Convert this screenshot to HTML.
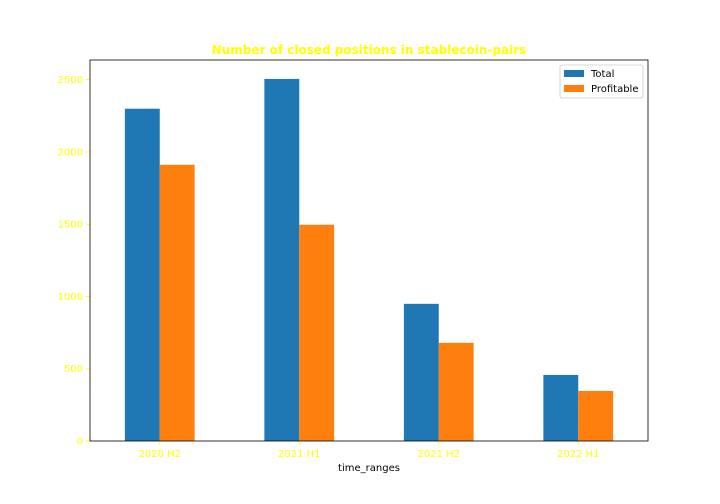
<!DOCTYPE html>
<html><head><meta charset="utf-8"><style>
body{margin:0;background:#fff;}
svg{display:block;font-family:"DejaVu Sans","Liberation Sans",sans-serif;}
</style></head><body>
<svg id="chart" width="720" height="504">
<text x="369" y="54" text-anchor="middle" font-size="12" font-weight="bold" fill="#ffff00">Number of closed positions in stablecoin-pairs</text>
<g id="plot"></g>
<text x="369" y="471" text-anchor="middle" font-size="10" fill="#000">time_ranges</text>
<rect x="90" y="60" width="558" height="381" fill="none" stroke="#000" stroke-width="0.8"/>
<g>
<rect x="560" y="65" width="83" height="33" rx="2" fill="#fff" stroke="#ccc" stroke-width="0.8"/>
<rect x="564" y="70" width="20" height="7" fill="#1f77b4"/>
<text x="591" y="77" font-size="10" fill="#000">Total</text>
<rect x="564" y="85" width="20" height="7" fill="#ff7f0e"/>
<text x="591" y="92" font-size="10" fill="#000">Profitable</text>
</g>
</svg>
<script>
const categories = ["2020 H2","2021 H1","2021 H2","2022 H1"];
const totalValues = [2299, 2505, 949, 457];
const profitableValues = [1911, 1496, 679, 346];
const yTicks = [0,500,1000,1500,2000,2500];
const L=90,R=648,T=60,B=441,YMAX=2636;
const ns="http://www.w3.org/2000/svg";
const g=document.getElementById('plot');
function y(v){return B-v*(B-T)/YMAX;}
function x(i){return L+(i+0.5)*(R-L)/categories.length;}
const bw=(R-L)/categories.length*0.25;
function mk(tag,attrs){const e=document.createElementNS(ns,tag);for(const k in attrs)e.setAttribute(k,attrs[k]);g.appendChild(e);return e;}
categories.forEach((c,i)=>{
  let r=mk('rect',{x:x(i)-bw,y:y(totalValues[i]),width:bw,height:B-y(totalValues[i]),fill:'#1f77b4'});
  
  
  r=mk('rect',{x:x(i),y:y(profitableValues[i]),width:bw,height:B-y(profitableValues[i]),fill:'#ff7f0e'});
  
  
  let t=mk('line',{x1:x(i),x2:x(i),y1:B,y2:B+4,stroke:'#ffff00','stroke-width':0.8});
  
  
  let l=mk('text',{x:x(i),y:B+16,'text-anchor':'middle','font-size':10,fill:'#ffff00'});
  l.textContent=c;
  
  
});
yTicks.forEach(v=>{
  let t=mk('line',{x1:L-4,x2:L,y1:y(v),y2:y(v),stroke:'#ffff00','stroke-width':0.8});
  
  
  let l=mk('text',{x:L-7,y:y(v)+3.5,'text-anchor':'end','font-size':10,fill:'#ffff00'});
  l.textContent=v;
  
  
});
</script>
</body></html>
